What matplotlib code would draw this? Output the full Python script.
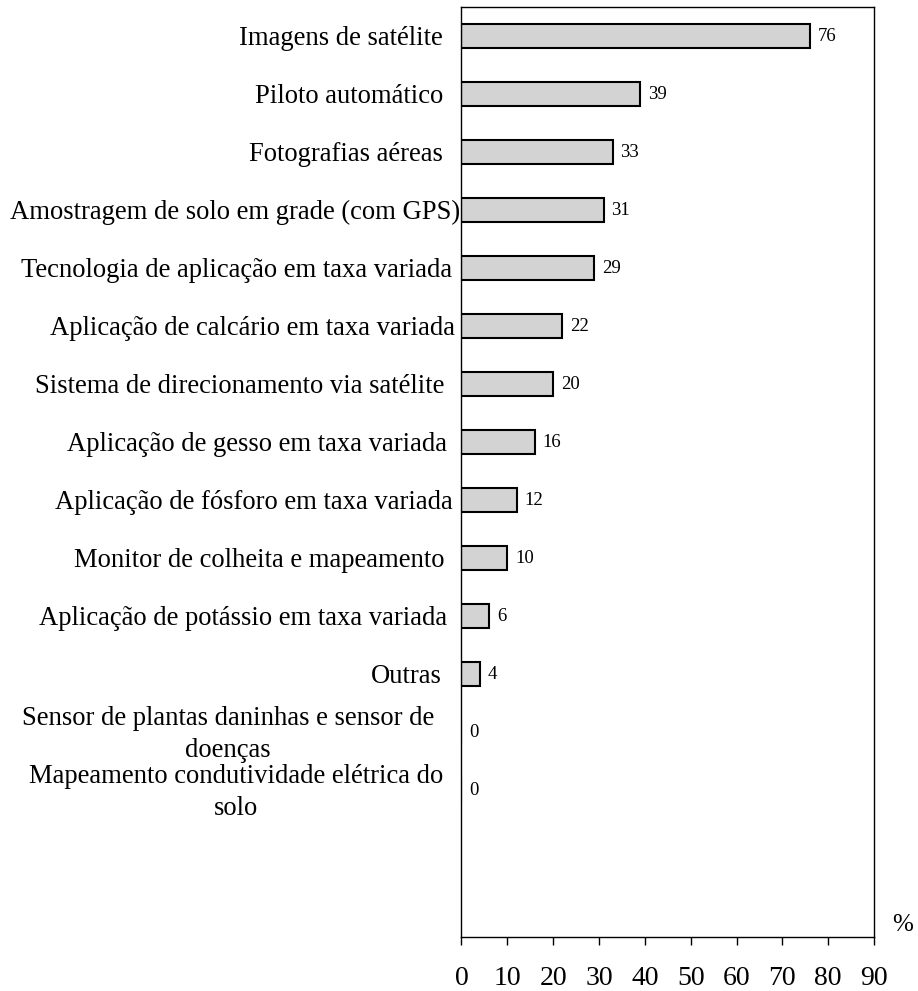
import matplotlib
matplotlib.use("Agg")
import matplotlib.pyplot as plt

categories = [
    "Imagens de satélite",
    "Piloto automático",
    "Fotografias aéreas",
    "Amostragem de solo em grade (com GPS)",
    "Tecnologia de aplicação em taxa variada",
    "Aplicação de calcário em taxa variada",
    "Sistema de direcionamento via satélite",
    "Aplicação de gesso em taxa variada",
    "Aplicação de fósforo em taxa variada",
    "Monitor de colheita e mapeamento",
    "Aplicação de potássio em taxa variada",
    "Outras",
    "Sensor de plantas daninhas e sensor de\ndoenças",
    "Mapeamento condutividade elétrica do\nsolo",
]
values = [76, 39, 33, 31, 29, 22, 20, 16, 12, 10, 6, 4, 0, 0]
x_ticks = [0, 10, 20, 30, 40, 50, 60, 70, 80, 90]

# gap (px) between each category label and the axis, as in the original
label_gaps = [18.5, 18.5, 18.5, 1.5, 9.5, 6.5, 17.5, 14.5, 8.5, 16.5, 14.5, 19.5, 27.5, 18.5]

plt.rcParams["font.family"] = ["Liberation Serif", "DejaVu Serif"]

fig = plt.figure(figsize=(9.18, 9.91), dpi=100)
ax = fig.add_axes([461.5 / 918, 1 - 937 / 991, (874 - 461.5) / 918, (937 - 7) / 991])

positions = list(range(len(categories)))
ax.barh(positions, values, height=0.41, color="#d3d3d3",
        edgecolor="black", linewidth=1.5)

for pos, val in zip(positions, values):
    ax.text(val + 1.7, pos, str(val), va="center", ha="left", fontsize=13.5)

# category labels drawn by hand so each keeps its own offset
for pos, name, gap in zip(positions, categories, label_gaps):
    ax.annotate(name, xy=(0, pos), xytext=(-gap * 0.72, -1.5),
                textcoords="offset points", ha="right", va="center",
                multialignment="center", linespacing=1.35, fontsize=19.2,
                annotation_clip=False)

ax.set_xlim(0, 90)
ax.set_ylim(15.53, -0.5)
ax.set_yticks([])
ax.set_xticks(x_ticks)
ax.set_xticklabels([str(t) for t in x_ticks], fontsize=20)
ax.tick_params(axis="x", direction="out", length=6, width=1, pad=15)

for spine in ax.spines.values():
    spine.set_linewidth(1.0)

ax.text(1.045, 0.013, "%", transform=ax.transAxes, fontsize=18,
        ha="left", va="center")

fig.savefig("out.png", dpi=100)
